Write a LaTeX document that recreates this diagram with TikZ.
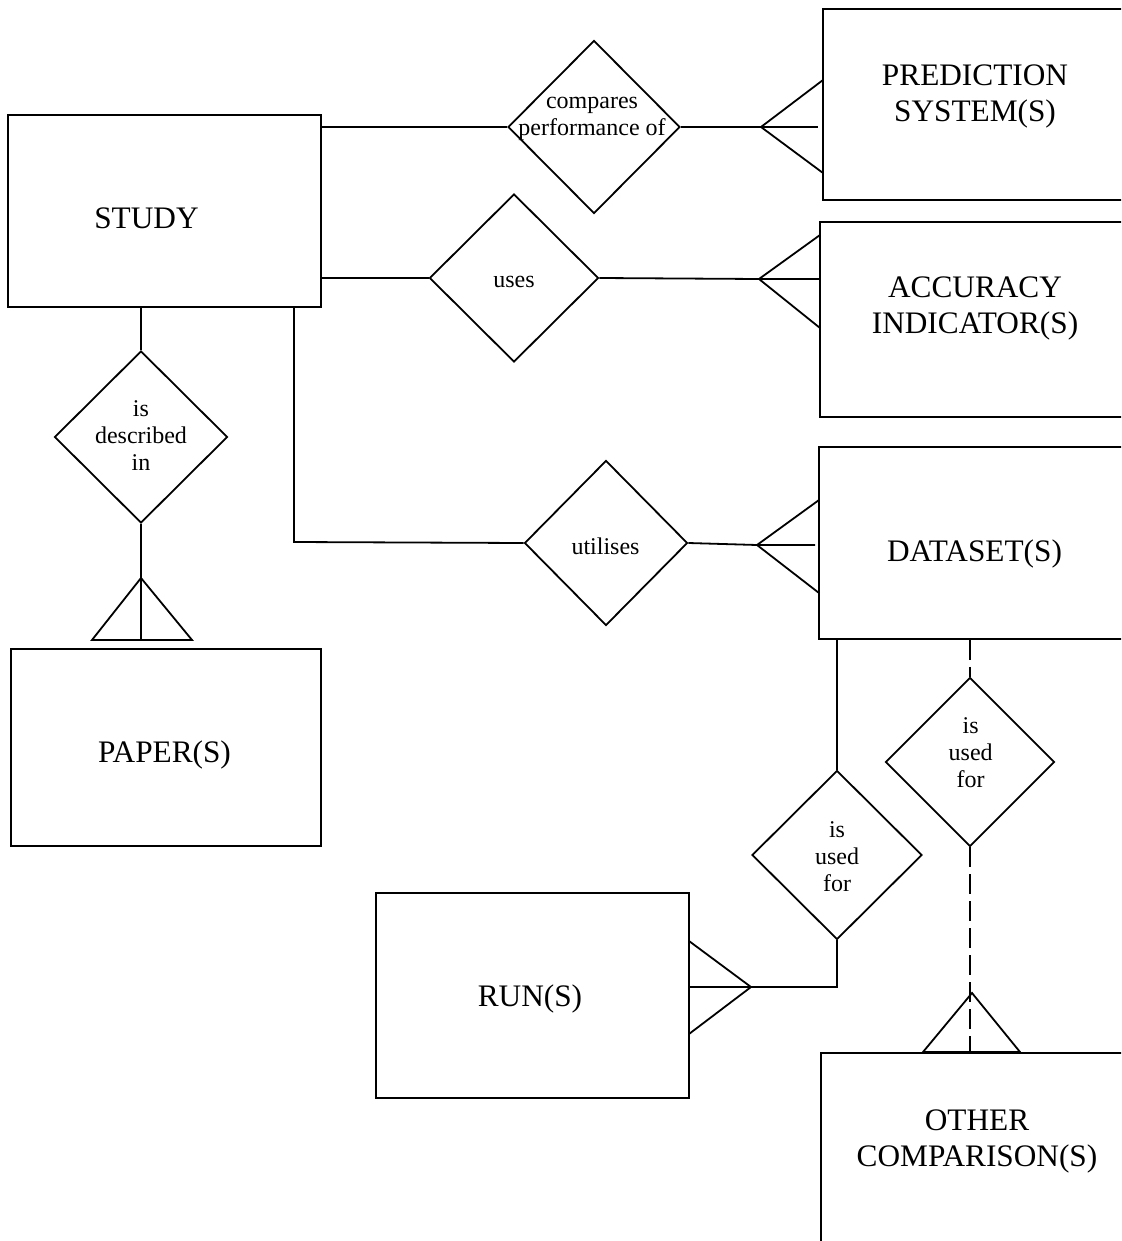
\documentclass[tikz,border=0pt]{standalone}
\usepackage{fontspec}
\setmainfont{Liberation Serif}
\usetikzlibrary{shapes.geometric}
\tikzset{
  ent/.style={draw, line width=1.8pt, rectangle, inner sep=0pt},
  dia/.style={draw, line width=1.8pt, diamond, inner sep=0pt},
  big/.style={align=center, inner sep=0pt, font=\fontsize{31.3}{36}\selectfont},
  small/.style={align=center, inner sep=0pt, font=\fontsize{24}{27}\selectfont},
  conn/.style={line width=1.8pt},
  dashconn/.style={line width=1.8pt, dash pattern=on 20pt off 7pt}
}
\begin{document}
\begin{tikzpicture}[x=1pt,y=-1pt]
\useasboundingbox (0,0) rectangle (1121,1241);
\fill[white] (0,0) rectangle (1121,1241);
\clip (0,0) rectangle (1121,1241);

% entities
\node[ent, minimum width=313pt, minimum height=192pt] (study) at (164.5,211) {};
\node[ent, minimum width=307pt, minimum height=191pt] (pred) at (976.5,104.5) {};
\node[ent, minimum width=310pt, minimum height=195pt] (acc) at (975,319.5) {};
\node[ent, minimum width=311pt, minimum height=192pt] (data) at (974.5,543) {};
\node[ent, minimum width=310pt, minimum height=197pt] (paper) at (166,747.5) {};
\node[ent, minimum width=313pt, minimum height=205pt] (run) at (532.5,995.5) {};
\node[ent, minimum width=309pt, minimum height=197pt] (other) at (975.5,1151.5) {};

% entity labels
\node[big] (tstudy) at (146.5,218.6) {STUDY};
\node[big] (tpred) at (975,96) {PREDICTION\\SYSTEM(S)};
\node[big] (tacc) at (975,308.5) {ACCURACY\\INDICATOR(S)};
\node[big] (tdata) at (974.5,554) {DATASET(S)};
\node[big] (tpaper) at (164.5,755) {PAPER(S)};
\node[big] (trun) at (530,999) {RUN(S)};
\node[big] (tother) at (977,1141.6) {OTHER\\COMPARISON(S)};

% relationships
\node[dia, minimum width=172pt, minimum height=173pt] (dcmp) at (594,127) {};
\node[dia, minimum width=169pt, minimum height=168pt] (duses) at (514,278) {};
\node[dia, minimum width=173pt, minimum height=172pt] (ddesc) at (141,437) {};
\node[dia, minimum width=163pt, minimum height=165pt] (dutil) at (606,543) {};
\node[dia, minimum width=170pt, minimum height=169pt] (drun) at (837,855) {};
\node[dia, minimum width=169pt, minimum height=169pt] (doth) at (970,762) {};

\node[small] (tcmp) at (592,119) {compares\\performance of};
\node[small] (tuses) at (514,281.5) {uses};
\node[small] (tdesc) at (141,436) {is\\described\\in};
\node[small] (tutil) at (605.5,546) {utilises};
\node[small] (trunrel) at (837,857) {is\\used\\for};
\node[small] (totherrel) at (970.7,753) {is\\used\\for};

% crow's foot points
\coordinate (cpA) at (761,127);
\coordinate (cpA1) at (823,80);
\coordinate (cpA2) at (823,173);
\coordinate (cpAm) at (818,127);
\coordinate (cuA) at (759,279);
\coordinate (cuA1) at (820,235);
\coordinate (cuA2) at (820,328);
\coordinate (cuAm) at (820,279);
\coordinate (cdA) at (757,545);
\coordinate (cdA1) at (819,500);
\coordinate (cdA2) at (819,593);
\coordinate (cdAm) at (815,545);
\coordinate (ppA) at (141,578);
\coordinate (ppB1) at (92,640);
\coordinate (ppB2) at (192,640);
\coordinate (ppBm) at (141,640);
\coordinate (crA) at (751,987);
\coordinate (crA1) at (689,941);
\coordinate (crA2) at (689,1034);
\coordinate (crBend) at (837,987);
\coordinate (coA) at (972,993);
\coordinate (coB1) at (923,1052);
\coordinate (coB2) at (1020,1052);
\coordinate (corner) at (294,542);

% connectors
\draw[conn] (study.east |- dcmp.west) -- (dcmp.west);
\draw[conn] (dcmp.east) -- (cpA) -- (cpAm);
\draw[conn] (cpA1) -- (cpA) -- (cpA2);

\draw[conn] (study.east |- duses.west) -- (duses.west);
\draw[conn] (duses.east) -- (cuA) -- (cuAm);
\draw[conn] (cuA1) -- (cuA) -- (cuA2);

\draw[conn] (corner |- study.south) -- (corner) -- (dutil.west);
\draw[conn] (dutil.east) -- (cdA) -- (cdAm);
\draw[conn] (cdA1) -- (cdA) -- (cdA2);

\draw[conn] (ddesc.north |- study.south) -- (ddesc.north);
\draw[conn] (ddesc.south) -- (ppBm);
\draw[conn] (ppB1) -- (ppA) -- (ppB2) -- cycle;

\draw[conn] (drun.north |- data.south) -- (drun.north);
\draw[conn] (drun.south) -- (crBend) -- (crA1 |- crBend);
\draw[conn] (crA1) -- (crA) -- (crA2);

\draw[dashconn] (doth.north |- data.south) -- (doth.north);
\draw[dashconn] (doth.south) -- (doth.south |- other.north);
\draw[conn] (coB1) -- (coA) -- (coB2) -- cycle;
\end{tikzpicture}
\end{document}
